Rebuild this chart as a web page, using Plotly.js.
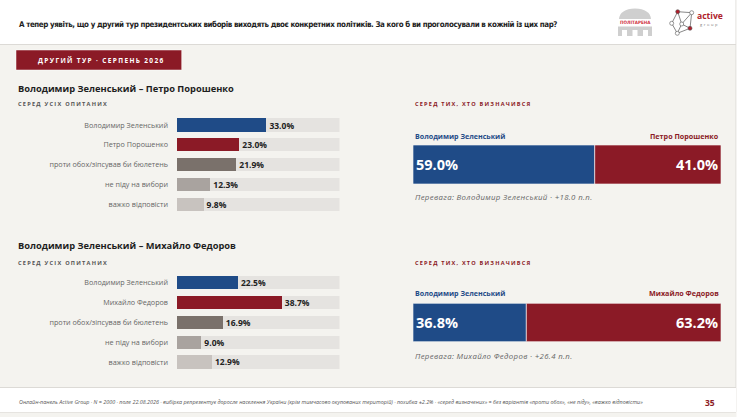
<!DOCTYPE html>
<html>
<head>
<meta charset="utf-8">
<script src="https://cdn.plot.ly/plotly-3.0.1.min.js"></script>
<style>
  html, body { margin: 0; padding: 0; background: #f4f3ef; }
  #chart { width: 740px; height: 417px; }
</style>
</head>
<body>
<div id="chart"></div>
<script>
// ---------------- DATA ----------------
const questionText = "А тепер уявіть, що у другий тур президентських виборів виходять двоє конкретних політиків. За кого б ви проголосували в кожній із цих пар?";
const badgeText = "ДРУГИЙ ТУР · СЕРПЕНЬ 2026";
const pair1Title = "Володимир Зеленський – Петро Порошенко";
const pair2Title = "Володимир Зеленський – Михайло Федоров";
const allRespLabel = "СЕРЕД УСІХ ОПИТАНИХ";
const decidedLabel = "СЕРЕД ТИХ, ХТО ВИЗНАЧИВСЯ";

const pair1Categories = ["Володимир Зеленський", "Петро Порошенко", "проти обох/зіпсував би бюлетень", "не піду на вибори", "важко відповісти"];
const pair1Values = [33.0, 23.0, 21.9, 12.3, 9.8];
const pair2Categories = ["Володимир Зеленський", "Михайло Федоров", "проти обох/зіпсував би бюлетень", "не піду на вибори", "важко відповісти"];
const pair2Values = [22.5, 38.7, 16.9, 9.0, 12.9];

const pair1DecidedNames = ["Володимир Зеленський", "Петро Порошенко"];
const pair1DecidedValues = [59.0, 41.0];
const pair2DecidedNames = ["Володимир Зеленський", "Михайло Федоров"];
const pair2DecidedValues = [36.8, 63.2];

const pair1Lead = "Перевага: Володимир Зеленський · +18.0 п.п.";
const pair2Lead = "Перевага: Михайло Федоров · +26.4 п.п.";
const footerText = "Онлайн-панель Active Group · N = 2000 · поле 22.08.2026 · вибірка репрезентує доросле населення України (крім тимчасово окупованих територій) · похибка ±2.2% · «серед визначених» = без варіантів «проти обох», «не піду», «важко відповісти»";
const pageNumber = "35";

// ---------------- STYLE ----------------
const W = 740, H = 417;
const BLUE = "#1f4b87", RED = "#8b1a26";
const barColors = [BLUE, RED, "#7a716b", "#a9a39f", "#c8c3bf"];
const TRACK = "#e5e3e0";
const TRACK_MAX = 60;
const FONT = "'Open Sans', 'Noto Sans', sans-serif";
const NARROW = "'Liberation Sans Narrow', 'DejaVu Sans Condensed', 'Open Sans', sans-serif";

const px = x => x / W;
const py = y => 1 - y / H;

const data = [];

function leftBars(cats, vals, xa, ya) {
  data.push({
    type: "bar", orientation: "h", y: cats, x: cats.map(() => TRACK_MAX),
    xaxis: xa, yaxis: ya, marker: { color: TRACK }, width: 0.66,
    hoverinfo: "skip", showlegend: false
  });
  data.push({
    type: "bar", orientation: "h", y: cats, x: vals,
    xaxis: xa, yaxis: ya, marker: { color: barColors }, width: 0.66,
    texttemplate: "%{x:.1f}%", textposition: "outside", cliponaxis: false,
    outsidetextfont: { family: FONT, size: 8.5, color: "#222", weight: 700 },
    hoverinfo: "skip", showlegend: false
  });
}

function decidedBar(vals, xa, ya) {
  const colors = [BLUE, RED];
  const anchors = ["start", "end"];
  let base = 0;
  vals.forEach((v, i) => {
    data.push({
      type: "bar", orientation: "h", y: [""], x: [v], base: [base],
      xaxis: xa, yaxis: ya, width: 1,
      marker: { color: colors[i], line: { color: "#ffffff", width: 0.6 } },
      texttemplate: "%{x:.1f}%", textposition: "inside", insidetextanchor: anchors[i],
      insidetextfont: { family: FONT, size: 14.5, color: "#ffffff", weight: 700 },
      textangle: 0, hoverinfo: "skip", showlegend: false
    });
    base += v;
  });
}

leftBars(pair1Categories, pair1Values, "x", "y");
decidedBar(pair1DecidedValues, "x2", "y2");
leftBars(pair2Categories, pair2Values, "x3", "y3");
decidedBar(pair2DecidedValues, "x4", "y4");

const leftX = [px(177), px(339.5)];
const rightX = [px(413), px(721)];
const catAxis = (dom, anchor) => ({
  domain: dom, anchor: anchor, type: "category", autorange: "reversed",
  showgrid: false, zeroline: false, showline: false, ticks: "",
  ticklabelstandoff: 8,
  tickfont: { family: FONT, size: 7.2, color: "#666" }, fixedrange: true
});
const valAxis = (dom, anchor, max) => ({
  domain: dom, anchor: anchor, range: [0, max], visible: false, fixedrange: true
});
const oneAxis = (dom, anchor) => ({
  domain: dom, anchor: anchor, range: [-0.5, 0.5], visible: false, fixedrange: true
});

const annotations = [];
const spaced = [];
function ann(o, spacing) {
  annotations.push(Object.assign({
    xref: "paper", yref: "paper", showarrow: false, xanchor: "left", yanchor: "middle", align: "left"
  }, o));
  if (spacing) spaced.push([annotations.length - 1, spacing]);
}

ann({ x: px(16.5), y: py(24.5), text: questionText, font: { family: NARROW, size: 7.9, color: "#1e1e1e", weight: 700 } }, -0.4);
ann({ x: px(36), y: py(60.5), text: badgeText, font: { family: FONT, size: 6.5, color: "#ffffff", weight: 700 } }, 1.35);

function section(title, yTitle, ySub, yNames, yLead, names, lead) {
  ann({ x: px(16), y: py(yTitle), text: title, font: { family: FONT, size: 9.3, color: "#1e1e1e", weight: 700 } });
  ann({ x: px(16), y: py(ySub), text: allRespLabel, font: { family: FONT, size: 5.6, color: "#555", weight: 700 } }, 1.25);
  ann({ x: px(413), y: py(ySub), text: decidedLabel, font: { family: FONT, size: 5.6, color: RED, weight: 700 } }, 1.2);
  ann({ x: px(413), y: py(yNames), text: names[0], font: { family: FONT, size: 7.1, color: BLUE, weight: 700 } });
  ann({ x: px(721), y: py(yNames), xanchor: "right", align: "right", text: names[1], font: { family: FONT, size: 7.2, color: RED, weight: 700 } });
  ann({ x: px(413), y: py(yLead), text: lead, font: { family: FONT, size: 7.8, color: "#666", style: "italic" } }, 0.35);
}
section(pair1Title, 88, 104, 136, 197.5, pair1DecidedNames, pair1Lead);
section(pair2Title, 245.5, 262.8, 293.3, 356, pair2DecidedNames, pair2Lead);

ann({ x: px(16.5), y: py(402), text: footerText, font: { family: FONT, size: 5.4, color: "#555", style: "italic" } });
ann({ x: px(717), y: py(402), xanchor: "right", align: "right", text: pageNumber, font: { family: FONT, size: 8.5, color: RED, weight: 700 } });

// logo texts
ann({ x: px(635), y: py(22), xanchor: "center", align: "center", text: "ПОЛІТАРЕНА", font: { family: NARROW, size: 4.6, color: "#d0343f", weight: 700 } });
ann({ x: px(695), y: py(16), text: "active", font: { family: FONT, size: 8.6, color: "#b01e2b", weight: 700 } });
ann({ x: px(697.5), y: py(24.5), text: "group", font: { family: FONT, size: 4, color: "#777" } }, 1.6);

// ---------------- SHAPES ----------------
const P = (o) => Object.assign({ xref: "paper", yref: "paper", layer: "below" }, o);
const shapes = [
  P({ type: "rect", x0: 0, x1: px(736), y0: py(44), y1: py(0), fillcolor: "#ffffff", line: { width: 0 } }),
  P({ type: "line", x0: 0, x1: px(736), y0: py(44.5), y1: py(44.5), line: { color: "#dcdad6", width: 1 } }),
  P({ type: "line", x0: px(736), x1: px(736), y0: py(0), y1: py(412), line: { color: "#dcdad6", width: 1 } }),
  P({ type: "rect", x0: px(736.5), x1: 1, y0: 0, y1: 1, fillcolor: "#ffffff", line: { width: 0 } }),
  P({ type: "rect", x0: 0, x1: px(736), y0: py(412), y1: py(388), fillcolor: "#ffffff", line: { width: 0 } }),
  P({ type: "line", x0: 0, x1: px(736), y0: py(387.5), y1: py(387.5), line: { color: "#dcdad6", width: 1 } }),
  P({ type: "line", x0: 0, x1: px(736), y0: py(412.5), y1: py(412.5), line: { color: "#e6e4e0", width: 1 } }),
  P({ type: "rect", x0: px(16), x1: px(181.7), y0: py(70), y1: py(50), fillcolor: RED, line: { color: "#ffffff", width: 0.5 } }),
  // Politarena building logo
  P({ type: "path", path: `M ${px(619)} ${py(19)} Q ${px(620)} ${py(9)} ${px(635)} ${py(8.5)} Q ${px(650)} ${py(9)} ${px(651)} ${py(19)} Z`, fillcolor: "#cfcfcf", line: { width: 0 } }),
  P({ type: "rect", x0: px(618), x1: px(652), y0: py(36), y1: py(26.5), fillcolor: "#cfcfcf", line: { width: 0 } }),
  P({ type: "rect", x0: px(622), x1: px(627), y0: py(36), y1: py(30), fillcolor: "#ffffff", line: { width: 0 } }),
  P({ type: "rect", x0: px(632.5), x1: px(637.5), y0: py(36), y1: py(30), fillcolor: "#ffffff", line: { width: 0 } }),
  P({ type: "rect", x0: px(643), x1: px(648), y0: py(36), y1: py(30), fillcolor: "#ffffff", line: { width: 0 } }),
  // active group network logo
  P({ type: "path", path: `M ${px(677.7)} ${py(11.7)} L ${px(691.7)} ${py(12.7)} L ${px(690)} ${py(28.3)} L ${px(677.3)} ${py(33.3)} L ${px(671.7)} ${py(23.3)} Z M ${px(677.7)} ${py(11.7)} L ${px(681.7)} ${py(24)} L ${px(691.7)} ${py(12.7)} M ${px(681.7)} ${py(24)} L ${px(677.3)} ${py(33.3)} M ${px(681.7)} ${py(24)} L ${px(690)} ${py(28.3)}`, line: { color: "#555", width: 0.7 } })
];
const nodes = [[677.7, 11.7, "#b01e2b"], [691.7, 12.7, "#fff"], [671.7, 23.3, "#fff"], [681.7, 24, "#fff"], [690, 28.3, "#b01e2b"], [677.3, 33.3, "#fff"]];
nodes.forEach(([x, y, c]) => shapes.push(P({ type: "circle", layer: "above", x0: px(x - 2), x1: px(x + 2), y0: py(y + 2), y1: py(y - 2), fillcolor: c, line: { color: "#555", width: 0.6 } })));

const layout = {
  width: W, height: H, margin: { l: 0, r: 0, t: 0, b: 0 },
  paper_bgcolor: "#f4f3ef", plot_bgcolor: "rgba(0,0,0,0)",
  barmode: "overlay", showlegend: false, bargap: 0,
  xaxis: valAxis(leftX, "y", TRACK_MAX),
  yaxis: catAxis([py(214.2), py(115.1)], "x"),
  xaxis2: valAxis(rightX, "y2", 100),
  yaxis2: oneAxis([py(184), py(145)], "x2"),
  xaxis3: valAxis(leftX, "y3", TRACK_MAX),
  yaxis3: catAxis([py(371.9), py(272.8)], "x3"),
  xaxis4: valAxis(rightX, "y4", 100),
  yaxis4: oneAxis([py(341.7), py(303.3)], "x4"),
  annotations: annotations,
  shapes: shapes,
  uniformtext: { mode: false }
};

// letter-spacing for selected labels
const css = spaced.map(([i, s]) => `g.annotation[data-index="${i}"] text { letter-spacing: ${s}px; }`).join("\n");
const st = document.createElement("style");
st.textContent = css;
document.head.appendChild(st);

Plotly.newPlot("chart", data, layout, { displayModeBar: false, staticPlot: true });
</script>
</body>
</html>
